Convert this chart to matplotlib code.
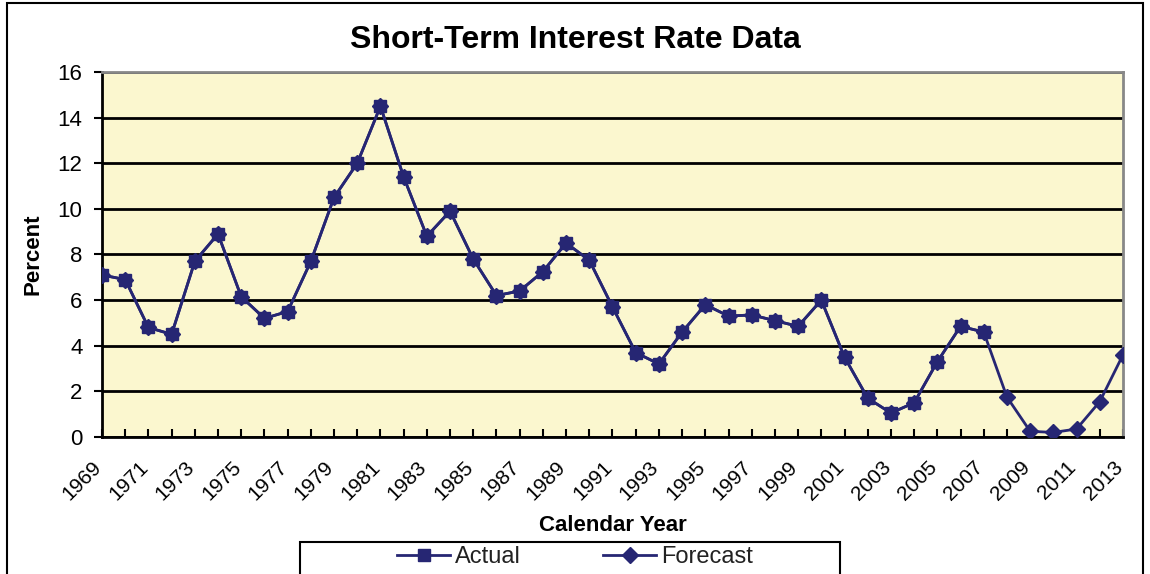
import matplotlib.pyplot as plt
import matplotlib.ticker as mticker
import matplotlib.transforms as mtransforms

plt.rcParams["font.family"] = ["Liberation Sans", "DejaVu Sans"]

years = list(range(1969, 2014))
actual = [7.1, 6.9, 4.8, 4.5, 7.7, 8.9, 6.15, 5.2, 5.5, 7.7,
          10.5, 12.0, 14.5, 11.4, 8.8, 9.9, 7.8, 6.2, 6.4, 7.25,
          8.5, 7.75, 5.7, 3.7, 3.2, 4.6, 5.8, 5.3, 5.35, 5.1,
          4.85, 6.0, 3.5, 1.7, 1.05, 1.5, 3.3, 4.85, 4.6]
forecast = actual + [1.75, 0.25, 0.2, 0.35, 1.55, 3.6]

navy = "#262673"

fig = plt.figure(figsize=(11.5, 5.74), dpi=100)
ax = fig.add_axes([0.0887, 0.2387, 0.8878, 0.6359])
ax.set_facecolor("#fbf7cf")

ax.plot(years, forecast, color=navy, lw=2, marker="D", ms=8, label="Forecast", zorder=3)
ax.plot(years[:len(actual)], actual, color=navy, lw=2, marker="s", ms=9, label="Actual", zorder=4)

ax.set_xlim(1969, 2013)
ax.set_ylim(0, 16)
ax.set_yticks(range(0, 17, 2))
ax.set_xticks(years[::2])
ax.xaxis.set_minor_locator(mticker.MultipleLocator(1))
ax.tick_params(axis="x", which="both", direction="in", length=6, width=1.5, labelsize=15, pad=6)
ax.tick_params(axis="y", direction="out", length=6, width=1.5, labelsize=16, pad=8)
# shift rotated year labels a little down and left, like the original
shift = mtransforms.ScaledTranslation(-10 / 100, -12 / 100, fig.dpi_scale_trans)
for lbl in ax.get_xticklabels():
    lbl.set_rotation(45)
    lbl.set_ha("right")
    lbl.set_rotation_mode("anchor")
    lbl.set_transform(lbl.get_transform() + shift)
ax.yaxis.grid(True, color="black", lw=2)
ax.set_axisbelow(True)

ax.spines["left"].set_linewidth(2)
ax.spines["bottom"].set_linewidth(2)
ax.spines["top"].set_color("#888888")
ax.spines["right"].set_color("#888888")
ax.spines["top"].set_linewidth(2)
ax.spines["right"].set_linewidth(2)

fig.suptitle("Short-Term Interest Rate Data", x=0.5, y=0.930, fontsize=23,
             fontweight="bold", va="center")
ax.set_ylabel("Percent", fontsize=16, fontweight="bold", labelpad=10)
ax.set_xlabel("Calendar Year", fontsize=16, fontweight="bold", labelpad=8)

# legend box drawn separately so it can be wider than its entries
fig.patches.append(plt.Rectangle((300 / 1150, -0.02), 540 / 1150, 32 / 574 + 0.02,
                                 transform=fig.transFigure, fill=False,
                                 edgecolor="black", lw=1.5))
handles, labels = ax.get_legend_handles_labels()
leg = fig.legend(handles[::-1], labels[::-1], loc="center",
                 bbox_to_anchor=(0.5, 17 / 574), ncol=2, fontsize=17, frameon=False,
                 handlelength=2.25, columnspacing=3.5, handletextpad=0.2, borderpad=0)
for t in leg.get_texts():
    t.set_color("#222222")

# outer chart border
fig.patches.append(plt.Rectangle((0.006, -0.01), 0.988, 1.005, transform=fig.transFigure,
                                 fill=False, edgecolor="black", lw=1.5))

fig.savefig("out.png", dpi=100)
